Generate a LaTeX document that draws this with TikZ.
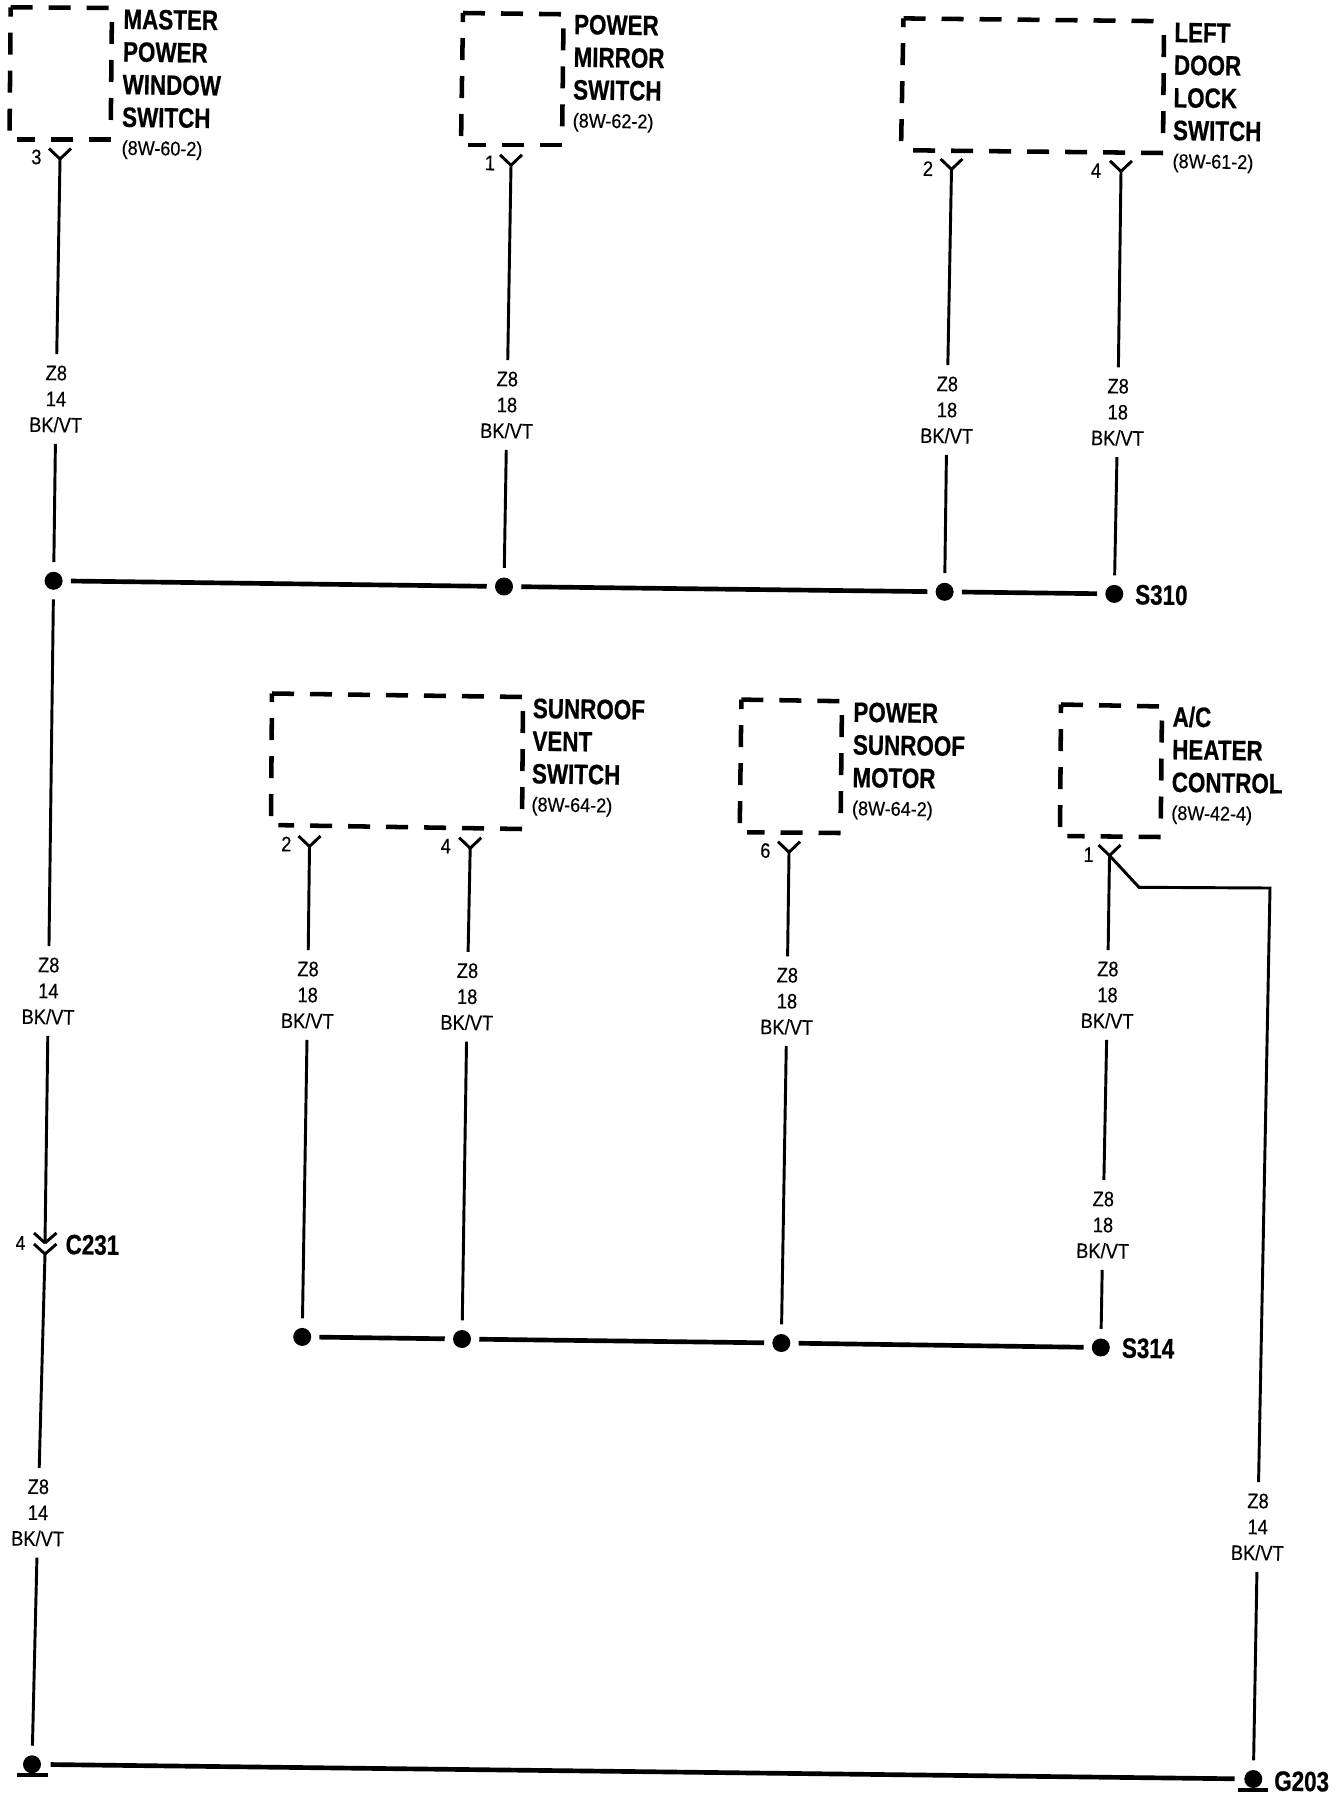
\documentclass[tikz,border=0pt]{standalone}
\usepackage{fontspec}
\setmainfont{Liberation Sans}
\newfontfamily\titlefam[FakeStretch=0.80,BoldFeatures={FakeStretch=0.80,FakeBold=0.6}]{Liberation Sans}
\newfontfamily\wirefam[FakeStretch=0.87,FakeBold=0.35]{Liberation Sans}
\newfontfamily\parenfam[FakeStretch=0.90,FakeBold=0.35]{Liberation Sans}
\newcommand\ttlfont{\titlefam\bfseries\fontsize{21}{24.5}\selectfont}
\newcommand\wirfont{\wirefam\fontsize{15.75}{19.5}\selectfont}
\newcommand\parfont{\parenfam\mdseries\fontsize{15}{24.5}\selectfont}
\tikzset{
  x=0.75pt,y=-0.75pt,
  wire/.style={line width=2.2pt,line cap=butt,black},
  busline/.style={line width=3.5pt,black,shorten <=6pt,shorten >=6pt},
  tojunc/.style={shorten >=7pt},
  fromjunc/.style={shorten <=7pt},
  junction/.style={circle,fill=black,inner sep=0pt,minimum size=13.5pt},
  wirelabel/.style={font=\wirfont,align=center,inner sep=0pt,minimum height=67pt,minimum width=10pt,rotate=-0.8},
  titletext/.style={font=\ttlfont,align=left,inner sep=0pt,anchor=north west,rotate=-0.8},
  tagtext/.style={font=\ttlfont,inner sep=0pt,anchor=west,rotate=-0.8},
  pinnum/.style={font=\wirfont,inner sep=0pt,rotate=-0.8},
  dashside/.style={line width=3.4pt,line cap=square,dash pattern=on 16.5pt off 12pt,black},
}
\newcommand\dbox[5]{%
  \coordinate (#1tl) at (#2);\coordinate (#1tr) at (#3);
  \coordinate (#1bl) at (#4);\coordinate (#1br) at (#5);
  \draw[dashside] (#1tl) -- (#1tr);
  \draw[dashside,shorten >=5.5pt] (#1br) -- (#1bl);
  \draw[dashside,dash phase=21.75pt] (#1bl) -- (#1tl);
  \draw[dashside,dash phase=18pt,shorten >=3pt] (#1tr) -- (#1br);
}
\newcommand\ypin[2]{%
  \coordinate (#1) at (#2);
  \draw[wire] (#1) -- ++(-11,-10.5) (#1) -- ++(11,-10.5);
}
\begin{document}
\begin{tikzpicture}
\useasboundingbox (0,0) rectangle (1344,1798);
% component boxes
\dbox{b1}{10.7,7.3}{112,8}{9.5,139.6}{110.6,139.6}
\dbox{b2}{463,13}{563.6,14.3}{461,145}{562,145}
\dbox{b3}{903.5,18.4}{1164,21.2}{901,150.2}{1163,153}
\dbox{b4}{272,693.5}{523,697}{271,825}{522,829}
\dbox{b5}{741.4,699.6}{842,701.2}{739.7,832.2}{840.5,833}
\dbox{b6}{1061,704.5}{1162,706.5}{1060,836}{1160.6,837}
% titles
\node[titletext] (t1) at (123.4,9) {MASTER\\POWER\\WINDOW\\SWITCH\\[-3.5pt]{\parfont (8W-60-2)}};
\node[titletext] (t2) at (574,14.3) {POWER\\MIRROR\\SWITCH\\[-3.5pt]{\parfont (8W-62-2)}};
\node[titletext] (t3) at (1174.3,22.5) {LEFT\\DOOR\\LOCK\\SWITCH\\[-3.5pt]{\parfont (8W-61-2)}};
\node[titletext] (t4) at (532.8,698.2) {SUNROOF\\VENT\\SWITCH\\[-3.5pt]{\parfont (8W-64-2)}};
\node[titletext] (t5) at (853.3,702) {POWER\\SUNROOF\\MOTOR\\[-3.5pt]{\parfont (8W-64-2)}};
\node[titletext] (t6) at (1172.6,706) {A/C\\HEATER\\CONTROL\\[-3.5pt]{\parfont (8W-42-4)}};
% pin connectors
\ypin{y1}{60,159}
\ypin{y2}{511,165.3}
\ypin{y3}{951.5,169.4}
\ypin{y4}{1121,171.4}
\ypin{y5}{309.5,846.5}
\ypin{y6}{470.2,848.2}
\ypin{y7}{789,852.2}
\ypin{y8}{1109.5,855.5}
\node[pinnum] (p1) at (36.4,157) {3};
\node[pinnum] (p2) at (490,163) {1};
\node[pinnum] (p3) at (928,168.6) {2};
\node[pinnum] (p4) at (1096,170.6) {4};
\node[pinnum] (p5) at (286.3,844) {2};
\node[pinnum] (p6) at (445.8,846) {4};
\node[pinnum] (p7) at (765.4,850.6) {6};
\node[pinnum] (p8) at (1088.6,854.7) {1};
% wire labels
\node[wirelabel] (w1) at (56,399) {Z8\\14\\BK/VT};
\node[wirelabel] (w2) at (507,405) {Z8\\18\\BK/VT};
\node[wirelabel] (w3) at (947,410) {Z8\\18\\BK/VT};
\node[wirelabel] (w4) at (1117.8,412.2) {Z8\\18\\BK/VT};
\node[wirelabel] (w5) at (48.4,991) {Z8\\14\\BK/VT};
\node[wirelabel] (w6) at (38,1512.7) {Z8\\14\\BK/VT};
\node[wirelabel] (w7) at (307.7,995) {Z8\\18\\BK/VT};
\node[wirelabel] (w8) at (467.2,996.7) {Z8\\18\\BK/VT};
\node[wirelabel] (w9) at (787,1001.2) {Z8\\18\\BK/VT};
\node[wirelabel] (w10) at (1107.5,995) {Z8\\18\\BK/VT};
\node[wirelabel] (w11) at (1103,1225) {Z8\\18\\BK/VT};
\node[wirelabel] (w12) at (1257.7,1527) {Z8\\14\\BK/VT};
% junctions
\node[junction] (d1) at (53.6,580.8) {};
\node[junction] (d2) at (504,586.5) {};
\node[junction] (d3) at (944.6,591.8) {};
\node[junction] (d4) at (1114.3,593.9) {};
\node[junction] (e1) at (302.2,1336.9) {};
\node[junction] (e2) at (462,1339) {};
\node[junction] (e3) at (781.3,1343) {};
\node[junction] (e4) at (1100.8,1347.5) {};
\node[junction] (g1) at (32,1764.3) {};
\node[junction] (g2) at (1253.3,1779) {};
\draw[line width=3.2pt] (g1) ++(-15,10.5) -- ++(31,0);
\draw[line width=3.2pt] (g2) ++(-15,11) -- ++(30,0);
% tags
\node[tagtext] (s1) at (1135,594.7) {S310};
\node[tagtext] (s2) at (1121.7,1348) {S314};
\node[tagtext] (s3) at (65.4,1244.5) {C231};
\node[tagtext] (s4) at (1274,1781) {G203};
% in-line connector C231
\coordinate (c1) at (45,1243);
\coordinate (c2) at (45,1254);
\draw[wire] (c1) -- ++(-11,-10) (c1) -- ++(11.5,-10);
\draw[wire] (c2) -- ++(-11,-10) (c2) -- ++(11.5,-10);
\node[font=\wirefam\fontsize{15}{16}\selectfont,inner sep=0pt] (p9) at (20.5,1243) {4};
% wires
\draw[wire] (y1) -- (w1);
\draw[wire,tojunc] (w1) -- (d1);
\draw[wire,fromjunc] (d1) -- (w5);
\draw[wire] (w5) -- (c1);
\draw[wire] (c2) -- (w6);
\draw[wire,tojunc] (w6) -- (g1);
\draw[wire] (y2) -- (w2);
\draw[wire,tojunc] (w2) -- (d2);
\draw[wire] (y3) -- (w3);
\draw[wire,tojunc] (w3) -- (d3);
\draw[wire] (y4) -- (w4);
\draw[wire,tojunc] (w4) -- (d4);
\draw[wire] (y5) -- (w7);
\draw[wire,tojunc] (w7) -- (e1);
\draw[wire] (y6) -- (w8);
\draw[wire,tojunc] (w8) -- (e2);
\draw[wire] (y7) -- (w9);
\draw[wire,tojunc] (w9) -- (e3);
\draw[wire] (y8) -- (w10);
\draw[wire] (w10) -- (w11);
\draw[wire,tojunc] (w11) -- (e4);
\coordinate (k1) at (1139,887.3);
\coordinate (k2) at (1270,888);
\draw[wire] (y8) -- (k1) -- (k2) -- (w12);
\draw[wire,tojunc] (w12) -- (g2);
% buses
\draw[busline] (d1) -- (d2);
\draw[busline] (d2) -- (d3);
\draw[busline] (d3) -- (d4);
\draw[busline] (e1) -- (e2);
\draw[busline] (e2) -- (e3);
\draw[busline] (e3) -- (e4);
\draw[busline,shorten <=7pt,shorten >=7pt] (g1) -- (g2);
\end{tikzpicture}
\end{document}
